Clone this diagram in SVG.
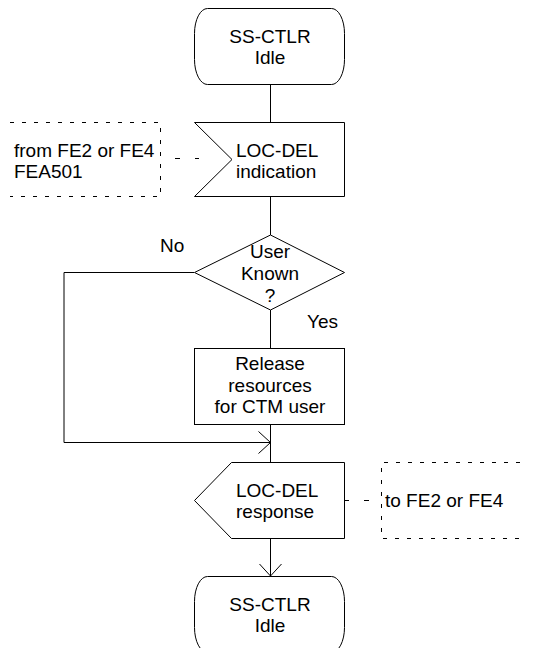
<svg xmlns="http://www.w3.org/2000/svg" width="533" height="648" viewBox="0 0 533 648">
  <style>
    .shape { fill: #ffffff; stroke: #000000; stroke-width: 1; }
    .line { fill: none; stroke: #000000; stroke-width: 1; }
    .dash { fill: none; stroke: #000000; stroke-width: 1; stroke-dasharray: 4 8; }
    .link { fill: none; stroke: #000000; stroke-width: 1; stroke-dasharray: 5 15; }
    text { font-family: "Liberation Sans", Arial, sans-serif; font-size: 19px; fill: #000000; }
    .c { text-anchor: middle; }
  </style>
  <defs>
    <marker id="open-arrow" markerWidth="16" markerHeight="26" refX="13" refY="12" orient="auto" markerUnits="userSpaceOnUse">
      <path d="M1,1 L13,12 L1,23" fill="none" stroke="#000000" stroke-width="1"/>
    </marker>
  </defs>

  <!-- connectors -->
  <g id="connectors">
    <line class="line" x1="270.5" y1="84" x2="270.5" y2="122"/>
    <line class="line" x1="270.5" y1="196" x2="270.5" y2="235"/>
    <line class="line" x1="270.5" y1="310" x2="270.5" y2="348"/>
    <line class="line" x1="270.5" y1="424" x2="270.5" y2="462"/>
    <path class="line" d="M194,272.5 H64 V442.5 H270.5" marker-end="url(#open-arrow)"/>
    <line class="line" x1="270.5" y1="538" x2="270.5" y2="576" marker-end="url(#open-arrow)"/>
    <line class="link" x1="161" y1="158.5" x2="199" y2="158.5" stroke-dashoffset="6"/>
    <line class="link" x1="344" y1="500.5" x2="381" y2="500.5" stroke-dasharray="5 14"/>
    <text x="160" y="252">No</text>
    <text x="307" y="328">Yes</text>
  </g>

  <!-- start state -->
  <g id="state-start">
    <rect class="shape" x="194.5" y="8.5" width="150" height="76" rx="13" ry="25"/>
    <text class="c" x="270" y="42.5">SS-CTLR</text>
    <text class="c" x="270" y="64">Idle</text>
  </g>

  <!-- input signal from FE2/FE4 -->
  <g id="from-fe">
    <path class="dash" d="M10,122.5 H160.5 V196.5 H10"/>
    <text x="14" y="156.5">from FE2 or FE4</text>
    <text x="14" y="178">FEA501</text>
  </g>
  <g id="input-loc-del">
    <path class="shape" d="M194.5,122.5 H344.5 V196.5 H194.5 L232,159.5 Z"/>
    <text x="236" y="156.5">LOC-DEL</text>
    <text x="236" y="178">indication</text>
  </g>

  <!-- decision -->
  <g id="decision-user-known">
    <path class="shape" d="M270.5,235 L344.5,272.5 L270.5,310 L194.5,272.5 Z"/>
    <text class="c" x="270" y="258">User</text>
    <text class="c" x="270" y="280">Known</text>
    <text class="c" x="270" y="302">?</text>
  </g>

  <!-- task -->
  <g id="task-release">
    <rect class="shape" x="194.5" y="348.5" width="150" height="76"/>
    <text class="c" x="270" y="370">Release</text>
    <text class="c" x="270" y="391.5">resources</text>
    <text class="c" x="270" y="413">for CTM user</text>
  </g>

  <!-- output signal to FE2/FE4 -->
  <g id="output-loc-del">
    <path class="shape" d="M231.5,462.5 H344.5 V538.5 H231.5 L194.5,500.5 Z"/>
    <text x="236" y="496.5">LOC-DEL</text>
    <text x="236" y="518">response</text>
  </g>
  <g id="to-fe">
    <path class="dash" d="M520,462.5 H381.5 V538.5 H520"/>
    <text x="385" y="506.5">to FE2 or FE4</text>
  </g>

  <!-- end state -->
  <g id="state-end">
    <rect class="shape" x="194.5" y="576.5" width="150" height="76" rx="13" ry="25"/>
    <text class="c" x="270" y="610.5">SS-CTLR</text>
    <text class="c" x="270" y="632">Idle</text>
  </g>
</svg>
